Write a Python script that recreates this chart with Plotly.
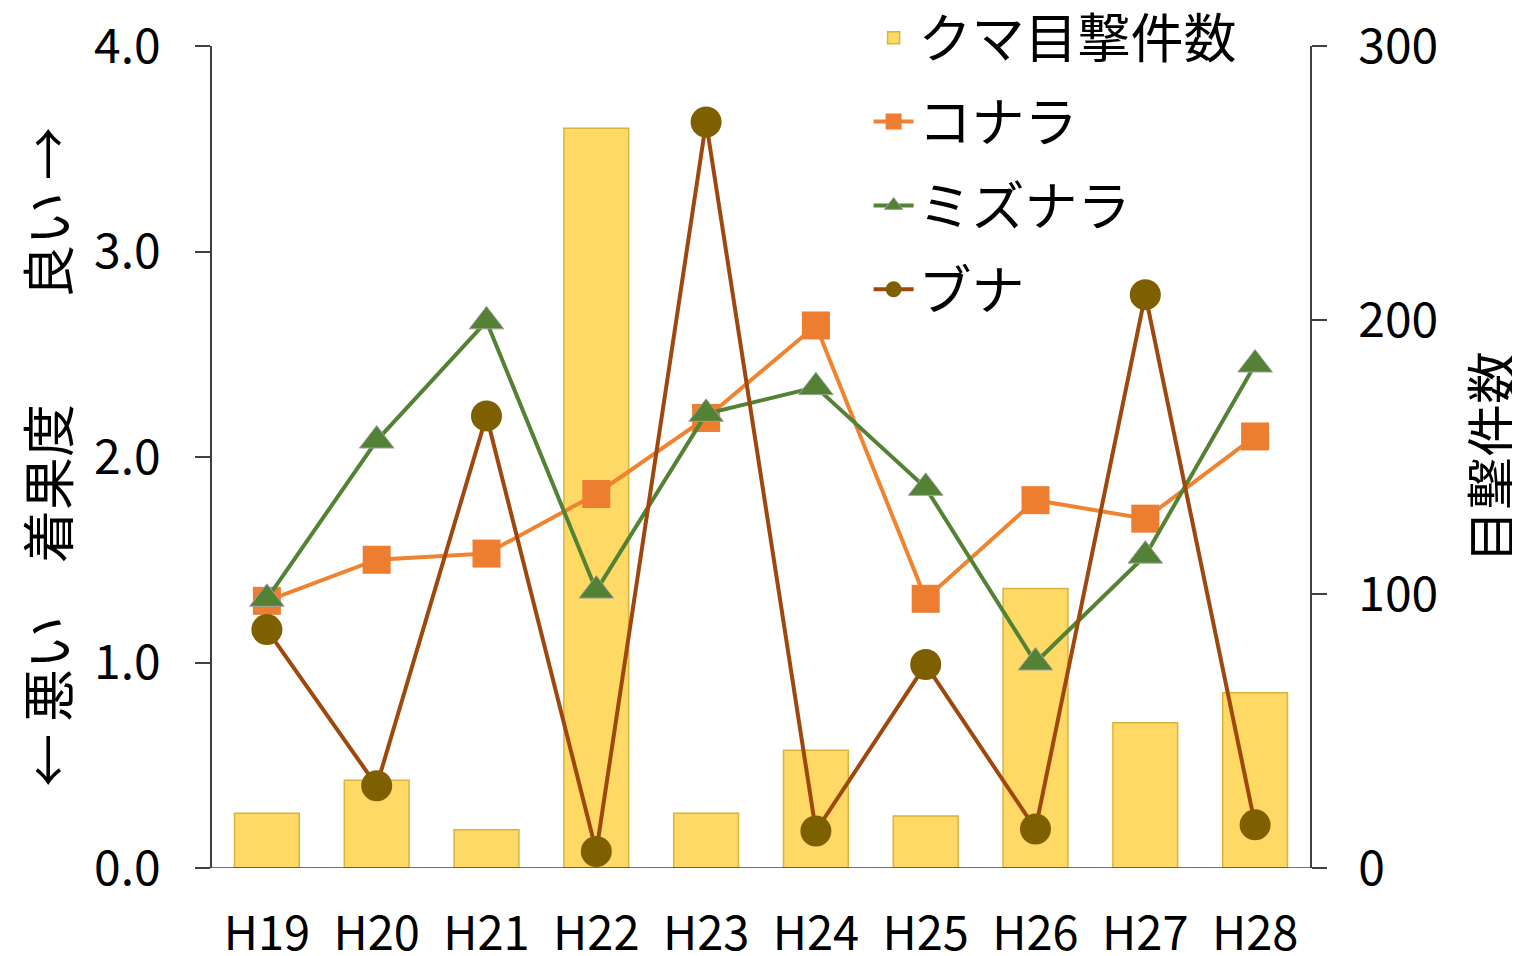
import plotly.graph_objects as go

years = ["H19", "H20", "H21", "H22", "H23", "H24", "H25", "H26", "H27", "H28"]
bear_sightings = [20, 32, 14, 270, 20, 43, 19, 102, 53, 64]
konara = [1.30, 1.50, 1.53, 1.82, 2.19, 2.64, 1.31, 1.79, 1.70, 2.10]
mizunara = [1.31, 2.08, 2.66, 1.35, 2.21, 2.34, 1.85, 1.00, 1.52, 2.45]
buna = [1.16, 0.40, 2.20, 0.08, 3.63, 0.18, 0.99, 0.19, 2.79, 0.21]

left_ticks = [0, 1, 2, 3, 4]
left_ticktext = ["0.0", "1.0", "2.0", "3.0", "4.0"]
right_ticks = [0, 100, 200, 300]

FONT = "Noto Sans CJK JP"

fig = go.Figure()

fig.add_trace(go.Bar(
    x=years, y=bear_sightings, name="クマ目撃件数", yaxis="y",
    marker=dict(color="#FFD966", line=dict(color="#D9B33A", width=1.5)),
    width=0.59, legendgroup="a",
))
fig.add_trace(go.Scatter(
    x=years, y=konara, name="コナラ", yaxis="y2", mode="lines+markers",
    line=dict(color="#F0832F", width=4),
    marker=dict(symbol="square", size=28, color="#ED7D31"),
    legendgroup="b",
))
fig.add_trace(go.Scatter(
    x=years, y=mizunara, name="ミズナラ", yaxis="y2", mode="lines+markers",
    line=dict(color="#548235", width=4),
    marker=dict(symbol="triangle-up", size=30, color="#548235",
                line=dict(color="#A0A0A0", width=1)),
    legendgroup="c",
))
fig.add_trace(go.Scatter(
    x=years, y=buna, name="ブナ", yaxis="y2", mode="lines+markers",
    line=dict(color="#9E480E", width=4),
    marker=dict(symbol="circle", size=31, color="#7F6000"),
    legendgroup="d",
))

fig.update_layout(
    width=1520, height=956,
    margin=dict(l=204, r=218, t=38, b=96, autoexpand=False),
    paper_bgcolor="white", plot_bgcolor="white",
    font=dict(family=FONT, size=47, color="black"),
    showlegend=True,
    bargap=0.41,
    legend=dict(
        x=0.598, y=1.06, xanchor="left", yanchor="top",
        font=dict(family=FONT, size=53, color="black"),
        bgcolor="rgba(0,0,0,0)", traceorder="grouped", tracegroupgap=12,
        itemwidth=40,
    ),
    xaxis=dict(
        type="category", range=[-0.5, 9.5], showline=False, automargin=False,
        ticks="", ticklabelstandoff=34, showgrid=False,
        tickfont=dict(family=FONT, size=47),
    ),
    yaxis=dict(
        side="right", range=[0, 300], tickvals=right_ticks, automargin=False,
        showline=True, linecolor="#404040", linewidth=1.5,
        ticks="outside", ticklen=15, tickcolor="#404040", tickwidth=1.5,
        ticklabelstandoff=22, ticklabeloverflow="allow",
        showgrid=False, zeroline=False,
        tickfont=dict(family=FONT, size=48),
        title=dict(text="目撃件数", font=dict(family=FONT, size=53), standoff=40),
    ),
    yaxis2=dict(
        side="left", overlaying="y", range=[0, 4], tickvals=left_ticks,
        ticktext=left_ticktext, automargin=False,
        showline=True, linecolor="#404040", linewidth=1.5,
        ticks="outside", ticklen=15, tickcolor="#404040", tickwidth=1.5,
        ticklabelstandoff=25, ticklabeloverflow="allow",
        showgrid=False, zeroline=False,
        tickfont=dict(family=FONT, size=48),
        title=dict(text="← 悪い　着果度　　良い →", font=dict(family=FONT, size=53), standoff=52),
    ),
    shapes=[dict(type="line", xref="paper", yref="y", x0=-0.0136, x1=1.0136,
                 y0=0, y1=0, line=dict(color="#404040", width=1.5), layer="above")],
)

fig.write_html("out.html")
